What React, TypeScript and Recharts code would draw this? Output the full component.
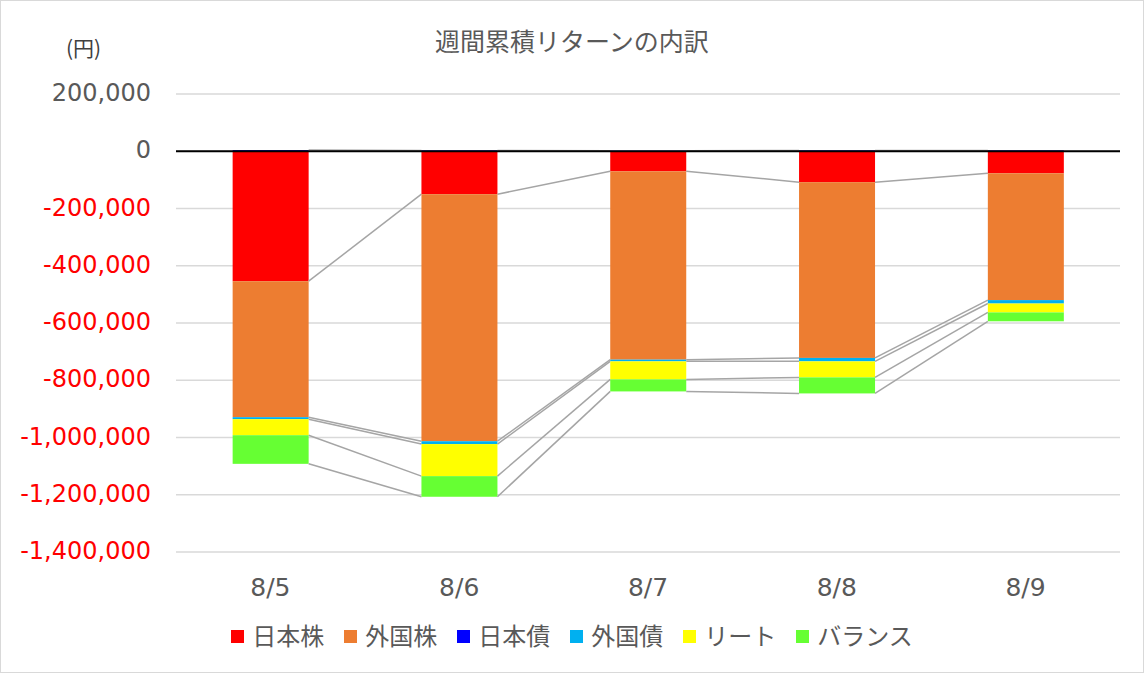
import { BarChart, Bar, XAxis, YAxis, CartesianGrid, ReferenceLine } from 'recharts';

// 週間累積リターン（円）
const categories = ['8/5', '8/6', '8/7', '8/8', '8/9'];
const japanStock = [-454000, -150000, -70000, -108000, -77000];
const foreignStock = [-475000, -863000, -658000, -614000, -443000];
const japanBond = [4000, 3000, 2000, 3000, 3000];
const foreignBond = [-7000, -10000, -6000, -12000, -12000];
const reit = [-56000, -112000, -63000, -56000, -31000];
const balance = [-100000, -72000, -42000, -56000, -31000];
const yTicks = [200000, 0, -200000, -400000, -600000, -800000, -1000000, -1200000, -1400000];

const seriesNames = ['日本株', '外国株', '日本債', '外国債', 'リート', 'バランス'];
const seriesValues = [japanStock, foreignStock, japanBond, foreignBond, reit, balance];
const seriesColors = ['#FF0000', '#ED7D31', '#0000FF', '#00B0F0', '#FFFF00', '#66FF33'];

const data = categories.map((c, i) => {
  const row: any = { name: c };
  seriesNames.forEach((s, k) => { row[s] = seriesValues[k][i]; });
  return row;
});

// chart layout
const W = 1144;
const H = 673;
const M = { top: 94, right: 24, bottom: 61, left: 0 };
const Y_AXIS_W = 176;
const X_AXIS_H = 60;
const PLOT_LEFT = M.left + Y_AXIS_W;
const PLOT_W = W - PLOT_LEFT - M.right;
const PLOT_TOP = M.top;
const PLOT_H = H - M.top - M.bottom - X_AXIS_H;
const Y_MIN = -1400000;
const Y_MAX = 200000;

const yOf = (v: number) => PLOT_TOP + ((Y_MAX - v) / (Y_MAX - Y_MIN)) * PLOT_H;

// end of the stacked segment (stackOffset="sign")
const stackEnd = (k: number, i: number) => {
  const v = seriesValues[k][i];
  let sum = 0;
  for (let j = 0; j <= k; j++) {
    const w = seriesValues[j][i];
    if ((v < 0 && w < 0) || (v >= 0 && w >= 0)) sum += w;
  }
  return sum;
};

const NUM_FONT = '"DejaVu Sans", sans-serif';
const JP_FONT = '"Noto Sans CJK JP", sans-serif';

// bar segment + series line to the next category
const makeShape = (k: number) => (props: any) => {
  const { x, y, width, height, index } = props;
  const top = Math.min(y, y + height);
  const h = Math.abs(height);
  const step = PLOT_W / categories.length;
  let line = null;
  if (index < categories.length - 1) {
    line = (
      <line
        x1={x + width}
        y1={yOf(stackEnd(k, index))}
        x2={x + step}
        y2={yOf(stackEnd(k, index + 1))}
        stroke="#A5A5A5"
        strokeWidth={1.5}
      />
    );
  }
  return (
    <g>
      <rect x={x} y={top} width={width} height={h} fill={seriesColors[k]} />
      {line}
    </g>
  );
};

const YTick = ({ y, payload }: any) => (
  <text
    x={151}
    y={y}
    dy={7}
    textAnchor="end"
    fontFamily={NUM_FONT}
    fontSize={24}
    fill={payload.value < 0 ? '#FF0000' : '#595959'}
  >
    {payload.value.toLocaleString('en-US')}
  </text>
);

const XTick = ({ x, y, payload }: any) => (
  <text x={x} y={y} dy={44} textAnchor="middle" fontFamily={NUM_FONT} fontSize={25} fill="#595959">
    {payload.value}
  </text>
);

export default function App() {
  return (
    <div style={{ position: 'relative', width: W, height: H, background: '#fff' }}>
      <style>{`body{margin:0}`}</style>
      <div
        style={{
          position: 'absolute', left: 0, top: 25, width: W, textAlign: 'center',
          fontFamily: JP_FONT, fontSize: 25, lineHeight: '30px', color: '#595959',
        }}
      >
        週間累積リターンの内訳
      </div>
      <div
        style={{
          position: 'absolute', left: 66, top: 34, fontFamily: JP_FONT, fontSize: 21,
          lineHeight: '26px', color: '#404040',
        }}
      >
        (円)
      </div>
      <BarChart
        width={W}
        height={H}
        data={data}
        margin={M}
        stackOffset="sign"
        barCategoryGap="30%"
      >
        <CartesianGrid vertical={false} stroke="#D9D9D9" strokeWidth={1.3} />
        <XAxis
          dataKey="name"
          height={X_AXIS_H}
          axisLine={false}
          tickLine={false}
          tickSize={0}
          tickMargin={0}
          tick={<XTick />}
        />
        <YAxis
          width={Y_AXIS_W}
          domain={[Y_MIN, Y_MAX]}
          ticks={yTicks}
          axisLine={false}
          tickLine={false}
          tick={<YTick />}
          interval={0}
        />
        {seriesNames.map((s, k) => (
          <Bar
            key={s}
            dataKey={s}
            stackId="a"
            fill={seriesColors[k]}
            shape={makeShape(k)}
            isAnimationActive={false}
          />
        ))}
        <ReferenceLine y={0} stroke="#000" strokeWidth={2} />
      </BarChart>
      <div
        style={{
          position: 'absolute', left: 0, top: 623, width: W, height: 24,
          display: 'flex', justifyContent: 'center', alignItems: 'center', gap: 20,
          fontFamily: JP_FONT, fontSize: 24, lineHeight: '24px', color: '#595959',
        }}
      >
        {seriesNames.map((s, k) => (
          <div key={s} style={{ display: 'flex', alignItems: 'center' }}>
            <span style={{ display: 'inline-block', width: 13, height: 13, background: seriesColors[k], marginRight: 8, marginTop: 3 }} />
            <span>{s}</span>
          </div>
        ))}
      </div>
      <div
        style={{
          position: 'absolute', left: 0, top: 0, width: W, height: H,
          boxSizing: 'border-box', border: '1px solid #D9D9D9', pointerEvents: 'none',
        }}
      />
    </div>
  );
}
